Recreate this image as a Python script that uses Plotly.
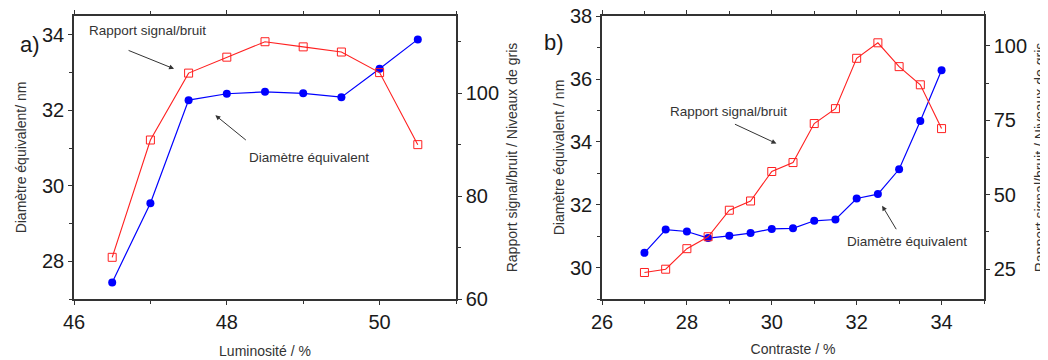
import plotly.graph_objects as go

# Panel a) data
lum_x = [46.5, 47, 47.5, 48, 48.5, 49, 49.5, 50, 50.5]
lum_diam = [27.44, 29.54, 32.27, 32.44, 32.49, 32.45, 32.35, 33.1, 33.88]
lum_snr = [68.1, 90.9, 103.9, 107.0, 110.0, 109.0, 108.0, 104.0, 90.0]

# Panel b) data
con_x = [27, 27.5, 28, 28.5, 29, 29.5, 30, 30.5, 31, 31.5, 32, 32.5, 33, 33.5, 34]
con_diam = [30.47, 31.21, 31.15, 30.94, 31.01, 31.1, 31.23, 31.25, 31.49, 31.53,
            32.2, 32.34, 33.13, 34.67, 36.28]
con_snr = [23.9, 25.0, 31.9, 35.9, 44.8, 47.9, 57.8, 60.8, 73.9, 78.9,
           95.8, 101.0, 93.0, 86.9, 72.2]

RED = "#ff2020"
BLUE = "#0000ff"
FONT = "Arial, Liberation Sans, sans-serif"
AXC = "#333333"
TXT = "#333333"

W, H = 1040, 352  # page body has an 8px margin in the 1048x360 window

fig = go.Figure()

def diam_trace(x, y, xa, ya):
    return go.Scatter(x=x, y=y, xaxis=xa, yaxis=ya, mode="lines+markers",
                      line=dict(color=BLUE, width=1.2),
                      marker=dict(symbol="circle", size=8, color=BLUE),
                      showlegend=False)

def snr_trace(x, y, xa, ya):
    return go.Scatter(x=x, y=y, xaxis=xa, yaxis=ya, mode="lines+markers",
                      line=dict(color=RED, width=1.1),
                      marker=dict(symbol="square-open", size=8, color=RED,
                                  line=dict(width=1, color=RED)),
                      showlegend=False)

fig.add_trace(diam_trace(lum_x, lum_diam, "x", "y"))
fig.add_trace(snr_trace(lum_x, lum_snr, "x", "y2"))
fig.add_trace(diam_trace(con_x, con_diam, "x2", "y3"))
fig.add_trace(snr_trace(con_x, con_snr, "x2", "y4"))

tickfont = dict(family=FONT, size=20, color="#1a1a1a")
titlefont = dict(family=FONT, size=14, color=TXT)

def axis(**kw):
    base = dict(showline=True, linecolor=AXC, linewidth=1.5, ticks="outside",
                ticklen=4, tickwidth=1.2, tickcolor=AXC, showgrid=False,
                zeroline=False, tickfont=tickfont, automargin=False,
                ticklabeloverflow="allow")
    base.update(kw)
    return base

ya_dom = [1 - 291 / H, 1 - 8 / H]

fig.update_layout(
    width=W, height=H,
    margin=dict(l=0, r=0, t=0, b=0),
    paper_bgcolor="white", plot_bgcolor="white",
    xaxis=axis(domain=[66 / W, 448 / W], range=[46, 51], dtick=2, tick0=46,
               mirror="ticks", anchor="y",
               minor=dict(dtick=1, ticks="outside", ticklen=3, tickcolor=AXC),
               title=dict(text="Luminosité / %", font=titlefont, standoff=14)),
    yaxis=axis(domain=ya_dom, range=[27, 34.5], dtick=2, tick0=28, anchor="x",
               minor=dict(dtick=1, ticks="outside", ticklen=3, tickcolor=AXC),
               title=dict(text="Diamètre équivalent/ nm", font=titlefont, standoff=12)),
    yaxis2=axis(range=[60, 115], dtick=20, tick0=60, overlaying="y", side="right",
                anchor="x",
                minor=dict(dtick=10, ticks="outside", ticklen=3, tickcolor=AXC),
                title=dict(text="Rapport signal/bruit / Niveaux de gris", font=titlefont,
                           standoff=9)),
    xaxis2=axis(domain=[594 / W, 976 / W], range=[26, 35], dtick=2, tick0=26,
                mirror="ticks", anchor="y3",
                minor=dict(dtick=1, ticks="outside", ticklen=3, tickcolor=AXC),
                title=dict(text="Contraste / %", font=titlefont, standoff=12)),
    yaxis3=axis(domain=ya_dom, range=[29, 38.01], dtick=2, tick0=30, anchor="x2",
                minor=dict(dtick=1, ticks="outside", ticklen=3, tickcolor=AXC),
                title=dict(text="Diamètre équivalent / nm", font=titlefont, standoff=2)),
    yaxis4=axis(range=[15, 110], dtick=25, tick0=25, overlaying="y3", side="right",
                anchor="x2",
                minor=dict(dtick=12.5, ticks="outside", ticklen=3, tickcolor=AXC),
                title=dict(text="Rapport signal/bruit / Niveaux de gris", font=titlefont,
                           standoff=12)),
)

ann_font = dict(family=FONT, size=13.5, color=TXT)
annotations = [
    # panel a
    dict(x=46.96, y=34.11, xref="x", yref="y", text="Rapport signal/bruit",
         showarrow=False, font=ann_font),
    dict(x=47.31, y=33.1, xref="x", yref="y", text="", showarrow=True,
         ax=-47, ay=-19, arrowhead=2, arrowsize=1, arrowwidth=1, arrowcolor="#333"),
    dict(x=49.08, y=30.75, xref="x", yref="y", text="Diamètre équivalent",
         showarrow=False, font=ann_font),
    dict(x=47.85, y=31.87, xref="x", yref="y", text="", showarrow=True,
         ax=32, ay=26, arrowhead=2, arrowsize=1, arrowwidth=1, arrowcolor="#333"),
    # panel b
    dict(x=28.99, y=34.97, xref="x2", yref="y3", text="Rapport signal/bruit",
         showarrow=False, font=ann_font),
    dict(x=30.11, y=33.95, xref="x2", yref="y3", text="", showarrow=True,
         ax=-43, ay=-20, arrowhead=2, arrowsize=1, arrowwidth=1, arrowcolor="#333"),
    dict(x=33.19, y=30.84, xref="x2", yref="y3", text="Diamètre équivalent",
         showarrow=False, font=ann_font),
    dict(x=32.6, y=31.97, xref="x2", yref="y3", text="", showarrow=True,
         ax=15, ay=25, arrowhead=2, arrowsize=1, arrowwidth=1, arrowcolor="#333"),
    # panel labels
    dict(x=10 / W, y=1 - 22 / H, xref="paper", yref="paper", text="a)",
         showarrow=False, font=dict(family=FONT, size=22, color="#1a1a1a")),
    dict(x=546 / W, y=1 - 20 / H, xref="paper", yref="paper", text="b)",
         showarrow=False, font=dict(family=FONT, size=22, color="#1a1a1a")),
]
fig.update_layout(annotations=annotations)

fig.write_html("out.html")
